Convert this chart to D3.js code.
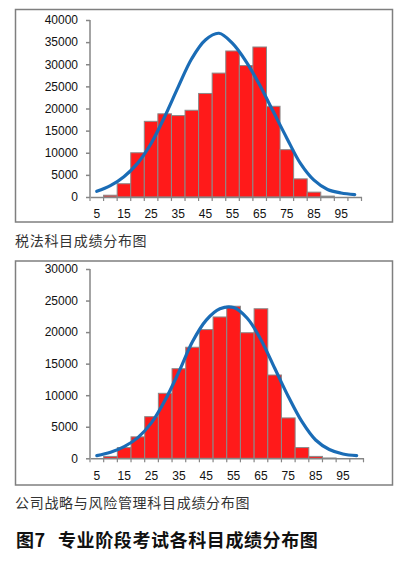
<html><head>
<meta charset="utf-8">
<title>专业阶段考试各科目成绩分布图</title>
<script type="text/javascript" src="https://d3js.org/d3.v7.min.js"></script>
<style>
  body { margin: 0; background: #fff; }
  .caption { font-family: "Noto Sans CJK SC", sans-serif; font-size: 14px; fill: #333; letter-spacing: 0.7px; }
  .title { font-family: "Noto Sans CJK SC", sans-serif; font-size: 18px; font-weight: bold; fill: #111; letter-spacing: 0.6px; }
  .axis text { font-family: "Liberation Sans", Arial, sans-serif; font-size: 12px; fill: #111; }
</style>
</head>
<body>
<div id="chart"></div>

<script>

// score bins (category axis)
var categories = [5, 10, 15, 20, 25, 30, 35, 40, 45, 50, 55, 60, 65, 70, 75, 80, 85, 90, 95, 100];
var xTickLabels = [5, 15, 25, 35, 45, 55, 65, 75, 85, 95];

// 税法
var taxCounts = [0, 400, 3000, 10000, 17100, 18800, 18400, 19600, 23400, 28000, 33000, 29700, 33900, 20500, 10700, 4100, 1100, 200, 0, 0];
var taxCurve  = [1280, 2560, 4590, 7600, 12100, 18150, 24900, 31300, 35500, 37000, 34700, 30600, 25300, 19300, 13300, 7600, 3800, 1700, 900, 530];
var taxYTicks = [0, 5000, 10000, 15000, 20000, 25000, 30000, 35000, 40000];

// 公司战略与风险管理
var riskCounts = [0, 300, 1700, 3400, 6600, 10300, 14200, 17600, 20400, 22400, 24100, 19900, 23700, 13200, 6400, 1700, 300, 50, 0, 0];
var riskCurve  = [420, 950, 1850, 3280, 5650, 9240, 13700, 18500, 21900, 23700, 23900, 22200, 18800, 14300, 9800, 5800, 2900, 1400, 690, 420];
var riskYTicks = [0, 5000, 10000, 15000, 20000, 25000, 30000];

var svg = d3.select("#chart")
  .append("svg")
    .attr("width", 402)
    .attr("height", 565);

function drawChart(cfg) {
  // outer frame
  svg.append("rect")
    .attr("x", 15.5).attr("y", cfg.frameTop)
    .attr("width", 377).attr("height", cfg.frameH)
    .attr("fill", "none")
    .attr("stroke", "#7f7f7f")
    .attr("stroke-width", 1.5);

  var x = d3.scaleBand()
    .domain(categories)
    .range([90, cfg.xEnd])
    .padding(0);

  var y = d3.scaleLinear()
    .domain([0, cfg.yMax])
    .range([cfg.y0, cfg.yTop]);

  // bars
  svg.append("g")
    .selectAll("rect")
    .data(cfg.counts)
    .enter().append("rect")
      .attr("x", function(d, i) { return x(categories[i]); })
      .attr("y", function(d) { return y(d); })
      .attr("width", x.bandwidth())
      .attr("height", function(d) { return cfg.y0 - y(d); })
      .attr("fill", "#ff1a1a")
      .attr("stroke", "#8a8a8a")
      .attr("stroke-width", 1);

  // y axis
  var yAxis = svg.append("g")
    .attr("class", "axis")
    .attr("transform", "translate(90,0)")
    .call(d3.axisLeft(y).tickValues(cfg.yTicks).tickSize(4).tickPadding(8).tickFormat(d3.format("d")));
  yAxis.selectAll("line, path").attr("stroke", "#868686").attr("stroke-width", 1.5);
  yAxis.select(".domain").attr("d", "M0," + cfg.y0 + "V" + cfg.yTop);

  // x axis: labels at every other bin, tick marks at bin borders
  var xAxis = svg.append("g")
    .attr("class", "axis")
    .attr("transform", "translate(0," + cfg.y0 + ")")
    .call(d3.axisBottom(x)
      .tickSize(0)
      .tickPadding(cfg.xPad)
      .tickFormat(function(d) { return xTickLabels.indexOf(d) >= 0 ? d : ""; }));
  xAxis.select(".domain").attr("stroke", "#868686").attr("stroke-width", 1.5);

  var borders = categories.map(function(c) { return x(c); }).concat([x.range()[1]]);
  xAxis.selectAll(".border")
    .data(borders)
    .enter().append("line")
      .attr("x1", function(d) { return d; })
      .attr("x2", function(d) { return d; })
      .attr("y1", 0).attr("y2", 4)
      .attr("stroke", "#868686")
      .attr("stroke-width", 1.2);

  // fitted normal curve
  svg.append("path")
    .datum(cfg.curve)
    .attr("fill", "none")
    .attr("stroke", "#1a6cb6")
    .attr("stroke-width", 3.2)
    .attr("stroke-linecap", "round")
    .attr("d", d3.line()
      .curve(d3.curveCatmullRom)
      .x(function(d, i) { return x(categories[i]) + x.bandwidth() / 2; })
      .y(function(d) { return y(d); }));

  svg.append("text")
    .attr("class", "caption")
    .attr("x", 15)
    .attr("y", cfg.captionY)
    .text(cfg.caption);
}

drawChart({
  frameTop: 9.5, frameH: 212.5,
  xEnd: 361.5, y0: 197, yTop: 20, yMax: 40000, xPad: 12,
  counts: taxCounts, curve: taxCurve, yTicks: taxYTicks,
  caption: "税法科目成绩分布图", captionY: 246
});

drawChart({
  frameTop: 261, frameH: 224,
  xEnd: 363.5, y0: 458.3, yTop: 269, yMax: 30000, xPad: 13,
  counts: riskCounts, curve: riskCurve, yTicks: riskYTicks,
  caption: "公司战略与风险管理科目成绩分布图", captionY: 508
});

var title = svg.append("text")
  .attr("class", "title")
  .attr("y", 547);
title.append("tspan").attr("x", 16).text("图7");
title.append("tspan").attr("x", 58).text("专业阶段考试各科目成绩分布图");

</script>
</body></html>
